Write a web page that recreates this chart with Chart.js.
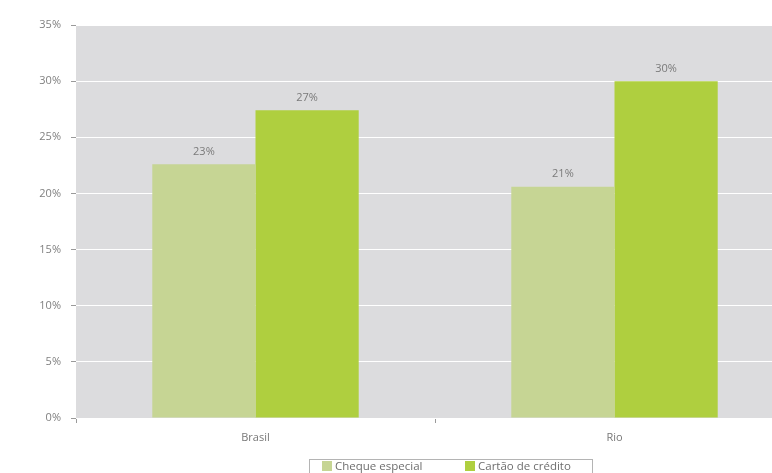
<!DOCTYPE html>
<html>
<head>
<meta charset="utf-8">
<script src="https://cdn.jsdelivr.net/npm/chart.js@4/dist/chart.umd.min.js"></script>
<style>
  html, body { margin: 0; padding: 0; background: #ffffff; overflow: hidden; }
  #wrap { width: 800px; height: 473px; }
</style>
</head>
<body>
<div id="wrap"><canvas id="c" width="800" height="473"></canvas></div>
<script>
// Categories and series
const categories = ['Brasil', 'Rio'];
const chequeEspecial = [22.6, 20.6];
const cartaoCredito = [27.4, 30.0];
const seriesNames = ['Cheque especial', 'Cartão de crédito'];
const yTicks = [0, 5, 10, 15, 20, 25, 30, 35];

const FONT = '"Open Sans", "Noto Sans", sans-serif';

// Grey panel behind the plot area
const plotBackground = {
  id: 'plotBackground',
  beforeDraw(chart) {
    const { ctx, chartArea: a } = chart;
    ctx.save();
    ctx.fillStyle = '#dcdcde';
    ctx.fillRect(a.left, a.top, a.right - a.left, a.bottom - a.top);
    ctx.restore();
  }
};

// Percentage labels above each bar
const valueLabels = {
  id: 'valueLabels',
  afterDatasetsDraw(chart) {
    const { ctx } = chart;
    ctx.save();
    ctx.font = '11px ' + FONT;
    ctx.fillStyle = '#7a7a7a';
    ctx.textAlign = 'center';
    ctx.textBaseline = 'bottom';
    chart.data.datasets.forEach((ds, i) => {
      chart.getDatasetMeta(i).data.forEach((bar, j) => {
        ctx.fillText(Math.round(ds.data[j]) + '%', bar.x, bar.y - 7);
      });
    });
    ctx.restore();
  }
};

// Boxed legend under the axis
const boxedLegend = {
  id: 'boxedLegend',
  afterDraw(chart) {
    const { ctx } = chart;
    const boxX = 309, boxY = 459, boxW = 283, boxH = 22;
    const itemX = [322, 465];
    ctx.save();
    ctx.strokeStyle = '#b4b4b4';
    ctx.lineWidth = 1;
    ctx.strokeRect(boxX + 0.5, boxY + 0.5, boxW, boxH);
    ctx.font = '11.5px ' + FONT;
    ctx.textBaseline = 'middle';
    ctx.textAlign = 'left';
    chart.data.datasets.forEach((ds, i) => {
      ctx.fillStyle = ds.backgroundColor;
      ctx.fillRect(itemX[i], 461, 10, 10);
      ctx.fillStyle = '#6e6e6e';
      ctx.fillText(ds.label, itemX[i] + 13, 466.5);
    });
    ctx.restore();
  }
};

new Chart(document.getElementById('c'), {
  type: 'bar',
  data: {
    labels: categories,
    datasets: [
      { label: seriesNames[0], data: chequeEspecial, backgroundColor: '#c6d594',
        categoryPercentage: 0.575, barPercentage: 1.0 },
      { label: seriesNames[1], data: cartaoCredito, backgroundColor: '#afcf3f',
        categoryPercentage: 0.575, barPercentage: 1.0 }
    ]
  },
  options: {
    responsive: false,
    animation: false,
    layout: { padding: { top: 25, right: 6, bottom: 0, left: 0 } },
    plugins: {
      legend: { display: false },
      tooltip: { enabled: false }
    },
    scales: {
      x: {
        offset: true,
        grid: { offset: true, drawOnChartArea: false, tickLength: 5, tickColor: '#9a9a9a' },
        border: { display: false },
        ticks: { color: '#777777', font: { family: FONT, size: 11 }, padding: 8 },
        afterFit(scale) { scale.height = 55; }
      },
      y: {
        min: 0,
        max: 35,
        afterBuildTicks(scale) { scale.ticks = yTicks.map(v => ({ value: v })); },
        grid: { color: '#ffffff', lineWidth: 1, tickLength: 5, tickColor: '#9a9a9a' },
        border: { display: false },
        ticks: {
          color: '#808080',
          font: { family: FONT, size: 11 },
          padding: 10,
          callback: v => v + '%'
        },
        afterFit(scale) { scale.width = 76; }
      }
    }
  },
  plugins: [plotBackground, valueLabels, boxedLegend]
});
</script>
</body>
</html>
